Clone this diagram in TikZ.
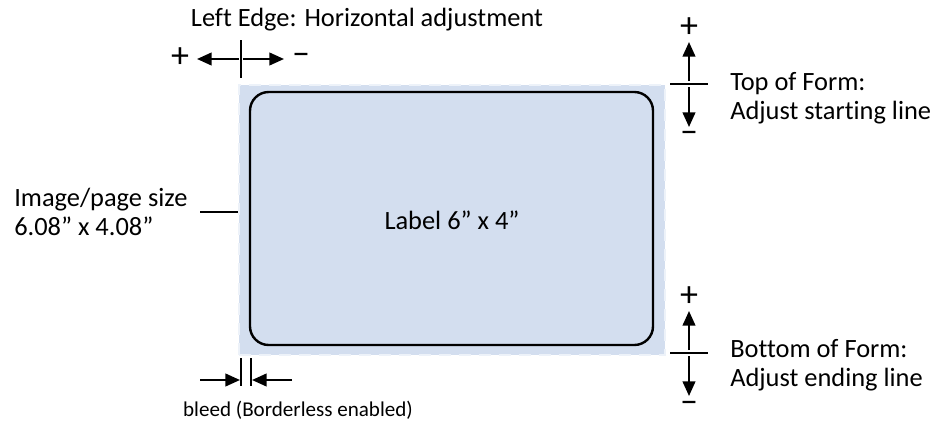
\documentclass[tikz,border=0pt]{standalone}
\usepackage{fontspec}
\setmainfont[Ligatures=NoCommon]{Carlito}
\usetikzlibrary{arrows.meta, positioning, fit}
\definecolor{pageblue}{RGB}{211,222,239}
\tikzset{
    pagebox/.style={
        draw=white!60!pageblue,
        dash pattern=on 9pt off 6pt,
        line width=1.5pt,
        fill=pageblue,
        inner sep=0pt
    },
    labelbox/.style={
        draw=black,
        rounded corners=14pt,
        line width=1.8pt,
        inner sep=0pt
    },
    adjarrow/.style={
        line width=1.6pt,
        -{Triangle[length=11pt, width=9.5pt]}
    },
    tickline/.style={line width=1.2pt},
    caption/.style={font=\fontsize{19.8}{21.5}\selectfont, align=left, inner sep=0pt},
    sign/.style={font=\fontsize{27}{27}\selectfont, inner sep=0pt}
}

\begin{document}
\begin{tikzpicture}[x=0.75pt, y=-0.75pt]
\useasboundingbox (0,0) rectangle (936,425);

% page and label
\node[pagebox, fit={(239,85) (665,355)}] (page) {};
\node[labelbox, fit={(250,92) (653,345)}] (label) {};
\node[caption] (labeltext) at (452,220) {Label 6” x 4”};

% left edge
\node[caption] (lefttitle) at (367,20) {Left Edge: Horizontal adjustment};
\coordinate (letop) at (241,40);
\coordinate (lebot) at (241,78);
\coordinate (leleft) at (239,59);
\coordinate (leright) at (243,59);
\coordinate (leleftend) at (197,59);
\coordinate (lerightend) at (284,59);
\node[sign] (leplus) at (180,58) {+};
\node[sign] (leminus) at (301,59) {–};
\draw[tickline] (letop) -- (lebot);
\draw[adjarrow] (leleft) -- (leleftend);
\draw[adjarrow] (leright) -- (lerightend);

% top of form
\coordinate (tfleft) at (670,84);
\coordinate (tfright) at (708,84);
\coordinate (tfup) at (689,81);
\coordinate (tfdown) at (689,87);
\coordinate (tfupend) at (689,42);
\coordinate (tfdownend) at (689,127);
\node[sign] (tfplus) at (689,28) {+};
\node[sign] (tfminus) at (689,137) {–};
\draw[tickline] (tfleft) -- (tfright);
\draw[adjarrow] (tfup) -- (tfupend);
\draw[adjarrow] (tfdown) -- (tfdownend);
\node[caption, anchor=west] (tftext) at (730,98) {Top of Form:\\Adjust starting line};

% bottom of form
\coordinate (bfleft) at (670,353);
\coordinate (bfright) at (708,353);
\coordinate (bfup) at (689,350);
\coordinate (bfdown) at (689,356);
\coordinate (bfupend) at (689,311);
\coordinate (bfdownend) at (689,396);
\node[sign] (bfplus) at (689,297) {+};
\node[sign] (bfminus) at (689,407) {–};
\draw[tickline] (bfleft) -- (bfright);
\draw[adjarrow] (bfup) -- (bfupend);
\draw[adjarrow] (bfdown) -- (bfdownend);
\node[caption, anchor=west] (bftext) at (730,365) {Bottom of Form:\\Adjust ending line};

% image size
\node[caption, anchor=west] (sizetext) at (14,212) {Image/page size\\6.08” x 4.08”};
\coordinate (sizeline) at (200,212);
\draw[tickline] (sizeline) -- (page.west |- sizeline);

% bleed
\coordinate (bleedA) at (241,358);
\coordinate (bleedB) at (251,358);
\draw[tickline] (bleedA) -- ++(0,28);
\draw[tickline] (bleedB) -- ++(0,28);
\coordinate (bleedL) at (200,380);
\coordinate (bleedR) at (292,380);
\coordinate (bleedLend) at (240,380);
\coordinate (bleedRend) at (252,380);
\draw[adjarrow] (bleedL) -- (bleedLend);
\draw[adjarrow] (bleedR) -- (bleedRend);
\node[caption, font=\fontsize{15.8}{18}\selectfont] (bleedtext) at (298,410) {bleed (Borderless enabled)};
\end{tikzpicture}
\end{document}
